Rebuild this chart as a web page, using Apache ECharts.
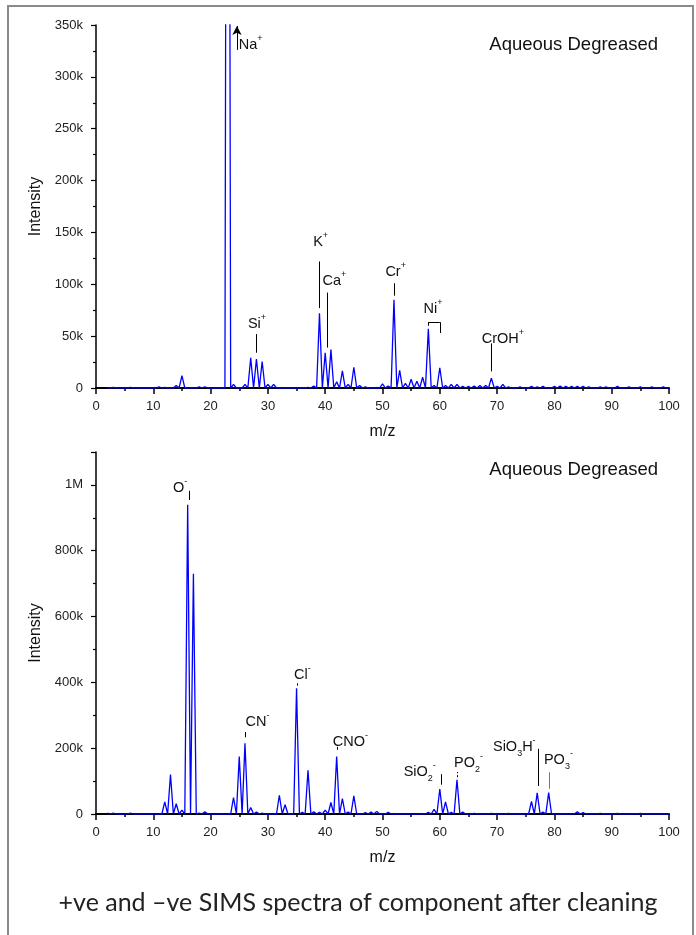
<!DOCTYPE html>
<html>
<head>
<meta charset="utf-8">
<script src="https://cdn.jsdelivr.net/npm/echarts@6/dist/echarts.min.js"></script>
<style>
  html, body { margin: 0; padding: 0; background: #fff; }
  #main { width: 696px; height: 935px; }
</style>
</head>
<body>
<div id="main"></div>
<script>
// positive ion spectrum: peak m/z and intensity
var posMz  = [3, 6, 11, 12, 14, 15, 18, 19, 23, 24, 26, 27, 28, 29, 30, 31, 37, 38, 39, 40, 41, 42, 43, 44, 45, 46, 47,
  50, 51, 52, 53, 54, 55, 56, 57, 58, 59, 60, 61, 62, 63, 64, 65, 66, 67, 68, 69, 70, 71, 72, 74, 76, 77, 78, 80, 81, 82, 83, 84, 85, 86, 88, 89, 91, 93, 95, 97, 99];
var posInt = [500, 500, 1000, 600, 2500, 12000, 1200, 1200, 1400000, 3500, 3500, 29000, 28000, 25500, 3500, 3500, 600, 2000, 72000, 34000, 37000, 6000, 16500, 3500, 20000, 2500, 1000,
  4000, 2000, 85000, 17000, 4500, 8500, 6500, 10500, 57000, 2500, 19500, 2500, 3500, 3500, 1500, 1500, 2000, 2500, 2500, 9500, 1500, 3500, 1000, 1000, 1500, 1000, 1500, 1500, 2000, 1500, 1500, 1500, 1500, 1000, 1000, 1000, 1500, 1000, 1000, 1000, 1000];

// negative ion spectrum
var negMz  = [2, 3, 6, 12, 13, 14, 15, 16, 17, 18, 19, 24, 25, 26, 27, 28, 29, 32, 33, 35, 36, 37, 38, 39, 40, 41, 42, 43, 44, 45,
  47, 48, 49, 51, 58, 59, 60, 61, 62, 63, 64, 66, 69, 72, 76, 77, 78, 79, 84, 85, 88, 91, 95];
var negInt = [3000, 3000, 3000, 37000, 120000, 31000, 12000, 940000, 730000, 3000, 7000, 50000, 175000, 215000, 20000, 6000, 3000, 57000, 28000, 382000, 5000, 133000, 7000, 5000, 12000, 35000, 175000, 47000, 6000, 55000,
  4000, 6000, 8000, 5000, 5000, 14000, 76000, 37000, 5000, 104000, 6000, 2000, 2000, 2000, 38000, 64000, 6000, 65000, 7000, 4000, 2000, 2000, 2000];

var mzStart = 2, mzEnd = 100;

function spectrum(mz, vals) {
  var peaks = {};
  mz.forEach(function (m, i) { peaks[m] = vals[i]; });
  var out = [];
  for (var m = mzStart; m <= mzEnd; m++) {
    out.push([m, peaks[m] || 0]);
    if (m < mzEnd) out.push([m + 0.5, 0]);
  }
  return out;
}

function kfmt(v) {
  if (v === 0) return '0';
  if (v >= 1000000) return (v / 1000000) + 'M';
  return (v / 1000) + 'k';
}

var FONT = 'Liberation Sans';
var labelRich = {
  a: { fontSize: 14.5, lineHeight: 22, color: '#111', fontFamily: FONT },
  s: { fontSize: 9, lineHeight: 11, verticalAlign: 'top', color: '#111', fontFamily: FONT },
  b: { fontSize: 9, lineHeight: 10, verticalAlign: 'bottom', color: '#111', fontFamily: FONT }
};

function tag(coord, text) {
  return {
    coord: coord, symbol: 'rect', symbolSize: 0,
    label: { show: true, position: 'inside', formatter: text, rich: labelRich }
  };
}
function seg(a, b, style, endSym) {
  var e = { coord: b };
  if (endSym) { e.symbol = endSym; e.symbolSize = [7, 9]; }
  return [{ coord: a, lineStyle: style || { color: '#000', width: 1, type: 'solid' } }, e];
}

var posTags = [
  tag([27.0, 331000], '{a|Na}{s|+}'),
  tag([28.1, 62000], '{a|Si}{s|+}'),
  tag([39.2, 141000], '{a|K}{s|+}'),
  tag([41.6, 103500], '{a|Ca}{s|+}'),
  tag([52.3, 112000], '{a|Cr}{s|+}'),
  tag([58.8, 76500], '{a|Ni}{s|+}'),
  tag([71.0, 47500], '{a|CrOH}{s|+}')
];
var posLines = [
  seg([24.6, 326000], [24.6, 349000], null, 'arrow'),
  seg([28, 34000], [28, 52000]),
  seg([38.9, 77000], [38.9, 122000]),
  seg([40.3, 39000], [40.3, 92000]),
  seg([52.1, 89000], [52.1, 101000]),
  seg([58, 63500], [60, 63500]),
  seg([58, 63500], [58, 60000]),
  seg([60, 63500], [60, 53000]),
  seg([69, 16000], [69, 43000])
];

var negTags = [
  tag([14.7, 992000], '{a|O}{s|-}'),
  tag([28.2, 279000], '{a|CN}{s|-}'),
  tag([36.0, 421000], '{a|Cl}{s|-}'),
  tag([44.4, 218000], '{a|CNO}{s|-}'),
  tag([56.5, 127000], '{a|SiO}{b|2}{s|-}'),
  tag([65.0, 155000], '{a|PO}{b|2}{s|-}'),
  tag([73.0, 205000], '{a|SiO}{b|3}{a|H}{s|-}'),
  tag([80.7, 163000], '{a|PO}{b|3}{s|-}')
];
var negLines = [
  seg([16.2, 954000], [16.2, 982000]),
  seg([26.1, 233000], [26.1, 249000]),
  seg([35.2, 390000], [35.2, 397000]),
  seg([42.1, 195000], [42.1, 204000]),
  seg([60.2, 89000], [60.2, 121000]),
  seg([63.1, 112000], [63.1, 128000], { color: '#000', width: 1, type: [2, 2] }),
  seg([77.2, 85000], [77.2, 198000]),
  seg([79.1, 77000], [79.1, 127000], { color: '#777', width: 1, type: 'solid' })
];

var chart = echarts.init(document.getElementById('main'));

var tickFont = { fontSize: 13, color: '#222', fontFamily: FONT };
var nameFont = { fontSize: 16, color: '#111', fontFamily: FONT };

function xAxisFor(idx, gap) {
  return {
    type: 'value', gridIndex: idx, min: 0, max: 100, interval: 10,
    name: 'm/z', nameLocation: 'middle', nameGap: gap, nameTextStyle: nameFont,
    axisLine: { onZero: false, lineStyle: { color: '#000', width: 2 } },
    axisTick: { length: 6, lineStyle: { color: '#000', width: 1.5 } },
    minorTick: { show: true, splitNumber: 2, length: 3, lineStyle: { color: '#000', width: 1.5 } },
    axisLabel: Object.assign({ margin: 12 }, tickFont),
    splitLine: { show: false }
  };
}
function yAxisFor(idx, max, interval) {
  return {
    type: 'value', gridIndex: idx, min: 0, max: max, interval: interval,
    name: 'Intensity', nameLocation: 'middle', nameGap: 51, nameTextStyle: nameFont,
    axisLine: { show: true, lineStyle: { color: '#000', width: 1.5 } },
    axisTick: { show: true, length: 5, lineStyle: { color: '#000', width: 1.2 } },
    minorTick: { show: true, splitNumber: 2, length: 3, lineStyle: { color: '#000', width: 1.2 } },
    axisLabel: Object.assign({ margin: 13, formatter: kfmt, showMaxLabel: max !== 1100000 }, tickFont),
    splitLine: { show: false }
  };
}

function spectrumSeries(idx, data, tags, lines) {
  return {
    type: 'line', xAxisIndex: idx, yAxisIndex: idx,
    data: data, showSymbol: false, smooth: false,
    lineStyle: { color: '#0000ff', width: 1.3 },
    itemStyle: { color: '#0000ff' },
    clip: true, silent: true, animation: false,
    markPoint: { silent: true, animation: false, data: tags },
    markLine: {
      silent: true, animation: false, symbol: ['none', 'none'],
      label: { show: false }, emphasis: { disabled: true },
      lineStyle: { color: '#000', width: 1, type: 'solid' },
      data: lines
    }
  };
}

var titleFont = { fontSize: 18.5, fontWeight: 'normal', color: '#111', fontFamily: FONT };

chart.setOption({
  backgroundColor: '#fff',
  animation: false,
  title: [
    { text: 'Aqueous Degreased', right: 33, top: 30, textStyle: titleFont },
    { text: 'Aqueous Degreased', right: 33, top: 455, textStyle: titleFont },
    { text: '+ve and \u2013ve SIMS spectra of component after cleaning', left: 353, textAlign: 'center', top: 885,
      textStyle: { fontSize: 25, fontWeight: 'normal', color: '#222', fontFamily: 'Lato' } }
  ],
  graphic: [
    { type: 'rect', shape: { x: 8, y: 6, width: 685, height: 940 }, style: { fill: 'none', stroke: '#8a8a8a', lineWidth: 2 }, silent: true }
  ],
  grid: [
    { left: 96, right: 27, top: 25, height: 363 },
    { left: 96, right: 27, top: 452, height: 362 }
  ],
  xAxis: [xAxisFor(0, 36), xAxisFor(1, 36)],
  yAxis: [yAxisFor(0, 350000, 50000), yAxisFor(1, 1100000, 200000)],
  series: [
    spectrumSeries(0, spectrum(posMz, posInt), posTags, posLines),
    spectrumSeries(1, spectrum(negMz, negInt), negTags, negLines)
  ]
});
</script>
</body>
</html>
